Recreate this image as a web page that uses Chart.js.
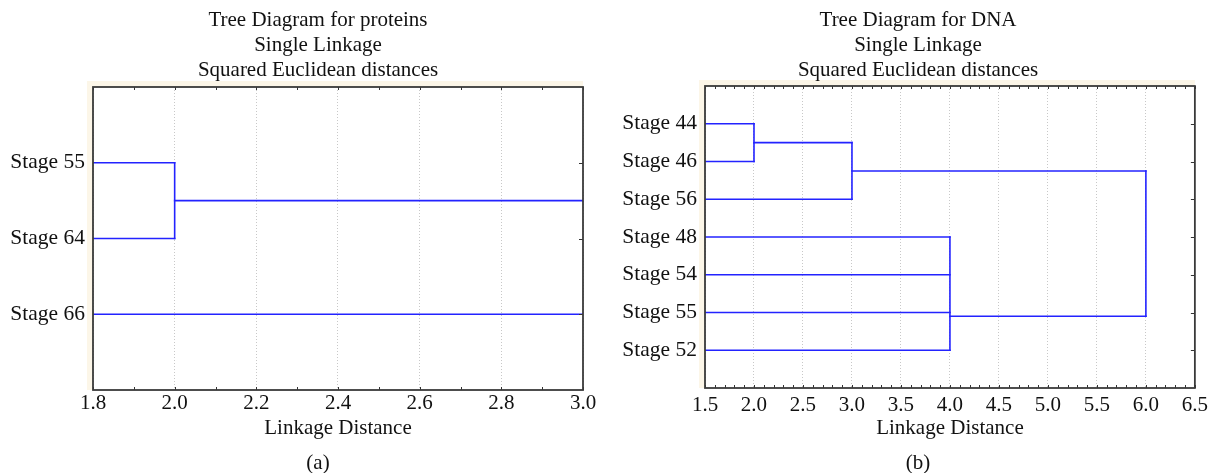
<!DOCTYPE html>
<html>
<head>
<meta charset="utf-8">
<script src="https://cdn.jsdelivr.net/npm/chart.js@4.4.1/dist/chart.umd.min.js"></script>
<style>
  body { margin: 0; background: #fff; width: 1213px; height: 473px; overflow: hidden; position: relative; }
  canvas { position: absolute; top: 0; }
  #proteins { left: 0; }
  #dna { left: 600px; }
</style>
</head>
<body>
<canvas id="proteins" width="636" height="473"></canvas>
<canvas id="dna" width="613" height="473"></canvas>
<script>
// (a) proteins
const proteinLeaves = ['Stage 55', 'Stage 64', 'Stage 66'];
const proteinMergeKids = [[0, 1]];          // node 3
const proteinMergeDist = [2.0];
const proteinMergeRow = [1.5];
const proteinOpenEnds = [3, 2];             // run on to the right edge
const proteinRange = [1.8, 3.0];
const proteinStep = 0.2;

// (b) DNA
const dnaLeaves = ['Stage 44', 'Stage 46', 'Stage 56', 'Stage 48', 'Stage 54', 'Stage 55', 'Stage 52'];
const dnaMergeKids = [[0, 1], [7, 2], [3, 4, 5, 6], [8, 9]];   // nodes 7..10
const dnaMergeDist = [2.0, 3.0, 4.0, 6.0];
const dnaMergeRow = [1.5, 2.25, 6.1, null];
const dnaOpenEnds = [];
const dnaRange = [1.5, 6.5];
const dnaStep = 0.5;

const BLUE = '#2323ff';
const FONT = 'Liberation Serif, Times New Roman, serif';
const INK = '#111';

function buildBranches(leaves, kids, dist, rows, open, xMin, xMax) {
    const nodes = leaves.map((_, i) => ({x: xMin, y: i + 1}));
    const segs = [];
    kids.forEach((k, m) => {
        const ys = k.map(c => nodes[c].y);
        k.forEach(c => segs.push([{x: nodes[c].x, y: nodes[c].y}, {x: dist[m], y: nodes[c].y}]));
        segs.push([{x: dist[m], y: Math.min(...ys)}, {x: dist[m], y: Math.max(...ys)}]);
        nodes.push({x: dist[m], y: rows[m]});
    });
    open.forEach(c => segs.push([{x: nodes[c].x, y: nodes[c].y}, {x: xMax, y: nodes[c].y}]));
    return segs.map(d => ({
        data: d, showLine: true, borderColor: BLUE, borderWidth: 1.6,
        borderCapStyle: 'square', pointRadius: 0, fill: false
    }));
}

// box, small inner ticks and the cream edge
const framePlugin = {
    id: 'frame',
    beforeDraw(chart) {
        const {ctx, chartArea: a} = chart;
        ctx.save();
        ctx.fillStyle = '#fcf6e8';
        ctx.fillRect(a.left - 6, a.top - 6, a.width + 6, 6);
        ctx.fillRect(a.left - 6, a.top - 6, 6, a.height + 6);
        ctx.restore();
    },
    afterDraw(chart, args, o) {
        const {ctx, chartArea: a, scales} = chart;
        const x = scales.x, y = scales.y;
        ctx.save();
        ctx.strokeStyle = '#333';
        ctx.lineWidth = 1;
        ctx.beginPath();
        const n = Math.round((x.max - x.min) / o.minor);
        for (let i = 0; i <= n; i++) {
            const px = Math.round(x.getPixelForValue(x.min + i * o.minor)) + 0.5;
            ctx.moveTo(px, a.top); ctx.lineTo(px, a.top + 3);
            ctx.moveTo(px, a.bottom); ctx.lineTo(px, a.bottom - 3);
        }
        y.ticks.forEach(t => {
            const py = Math.round(y.getPixelForValue(t.value)) + 0.5;
            ctx.moveTo(a.right, py); ctx.lineTo(a.right - 4, py);
        });
        ctx.stroke();
        ctx.lineWidth = 1.8;
        ctx.strokeStyle = '#3a3a3a';
        ctx.strokeRect(a.left, a.top, a.width, a.height);
        ctx.restore();
    }
};

function makeTree(id, t) {
    new Chart(document.getElementById(id), {
        type: 'scatter',
        data: {datasets: buildBranches(t.leaves, t.kids, t.dist, t.rows, t.open, t.range[0], t.range[1])},
        plugins: [framePlugin],
        options: {
            responsive: false,
            animation: false,
            events: [],
            layout: {padding: {left: t.padLeft, right: 0, top: 0, bottom: 0}},
            plugins: {
                legend: {display: false},
                tooltip: {enabled: false},
                title: {
                    display: true, text: t.title, color: INK,
                    font: {family: FONT, size: 21, weight: 'normal', lineHeight: '25px'},
                    padding: {top: 8, bottom: t.titleGap}
                },
                subtitle: {
                    display: true, position: 'bottom', text: t.caption, color: INK,
                    font: {family: FONT, size: 21, weight: 'normal', lineHeight: '20px'},
                    padding: {top: 13, bottom: 0}
                },
                frame: {minor: 0.1}
            },
            scales: {
                x: {
                    type: 'linear', min: t.range[0], max: t.range[1],
                    ticks: {
                        stepSize: t.step, autoSkip: false, maxRotation: 0,
                        padding: t.tickPad, color: INK,
                        font: {family: FONT, size: 21, lineHeight: '24px'},
                        callback: v => v.toFixed(1)
                    },
                    grid: {color: '#c8c8c8', lineWidth: 1, drawTicks: false},
                    border: {display: false, dash: [1, 2]},
                    title: {
                        display: true, text: 'Linkage Distance', color: INK,
                        font: {family: FONT, size: 21, lineHeight: '24px'},
                        padding: {top: 0, bottom: 0}
                    },
                    afterFit: s => { s.height = t.xHeight; }
                },
                y: {
                    type: 'linear', reverse: true, min: 0, max: t.leaves.length + 1,
                    afterBuildTicks: s => { s.ticks = t.leaves.map((_, i) => ({value: i + 1})); },
                    ticks: {
                        autoSkip: false, padding: 8, color: INK,
                        font: {family: FONT, size: 21.5},
                        callback: v => t.leaves[v - 1]
                    },
                    grid: {display: false, drawTicks: false},
                    border: {display: false},
                    afterFit: s => { s.width = t.yWidth; }
                },
                y2: {
                    type: 'linear', position: 'right', display: true,
                    ticks: {display: false},
                    grid: {display: false, drawTicks: false},
                    border: {display: false},
                    afterFit: s => { s.width = t.rightGap; }
                }
            }
        }
    });
}

makeTree('proteins', {
    leaves: proteinLeaves, kids: proteinMergeKids, dist: proteinMergeDist,
    rows: proteinMergeRow, open: proteinOpenEnds, range: proteinRange, step: proteinStep,
    title: ['Tree Diagram for proteins', 'Single Linkage', 'Squared Euclidean distances'],
    caption: '(a)', padLeft: 0, yWidth: 93, rightGap: 53, titleGap: 4, xHeight: 50, tickPad: 1
});

makeTree('dna', {
    leaves: dnaLeaves, kids: dnaMergeKids, dist: dnaMergeDist,
    rows: dnaMergeRow, open: dnaOpenEnds, range: dnaRange, step: dnaStep,
    title: ['Tree Diagram for DNA', 'Single Linkage', 'Squared Euclidean distances'],
    caption: '(b)', padLeft: 23, yWidth: 82, rightGap: 18, titleGap: 3, xHeight: 52, tickPad: 5
});
</script>
</body>
</html>
